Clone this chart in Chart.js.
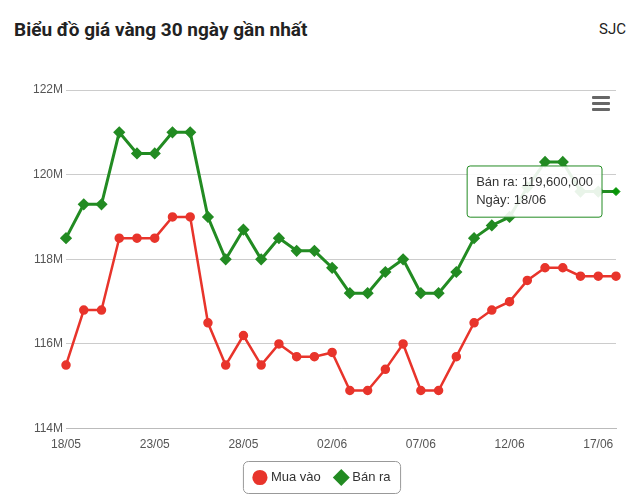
<!DOCTYPE html>
<html><head><meta charset="utf-8">
<script src="https://cdn.jsdelivr.net/npm/chart.js@4"></script>
<style>
body{margin:0;width:640px;height:500px;background:#fff;font-family:Roboto,"Open Sans",sans-serif;position:relative;overflow:hidden}
#t{position:absolute;left:14px;top:18px;font-size:19px;font-weight:bold;color:#222}
#s{position:absolute;right:14px;top:20px;font-size:15px;color:#222}
#m{position:absolute;left:592px;top:96px;width:18px}
#m div{height:3px;background:#666;margin-bottom:3px;border-radius:1px}
#c{position:absolute;left:0;top:60px}
</style></head><body>
<div id="t">Biểu đồ giá vàng 30 ngày gần nhất</div><div id="s">SJC</div>
<canvas id="c" width="640" height="440"></canvas>
<div id="m"><div></div><div></div><div></div></div>
<script>
const dates=["18/05","19/05","20/05","21/05","22/05","23/05","24/05","25/05","26/05","27/05","28/05","29/05","30/05","31/05","01/06","02/06","03/06","04/06","05/06","06/06","07/06","08/06","09/06","10/06","11/06","12/06","13/06","14/06","15/06","16/06","17/06","18/06"];
const muaVao=[115.5,116.8,116.8,118.5,118.5,118.5,119.0,119.0,116.5,115.5,116.2,115.5,116.0,115.7,115.7,115.8,114.9,114.9,115.4,116.0,114.9,114.9,115.7,116.5,116.8,117.0,117.5,117.8,117.8,117.6,117.6,117.6];
const banRa=[118.5,119.3,119.3,121.0,120.5,120.5,121.0,121.0,119.0,118.0,118.7,118.0,118.5,118.2,118.2,117.8,117.2,117.2,117.7,118.0,117.2,117.2,117.7,118.5,118.8,119.0,119.7,120.3,120.3,119.6,119.6,119.6];
const yTicks=[114,116,118,120,122];
const boxPlugin={id:'lb',afterDraw(ch){const l=ch.legend;if(!l)return;const c=ch.ctx;c.save();c.strokeStyle='#999';c.lineWidth=1;
const h=l.legendHitBoxes;const x0=h[0].left-12,x1=h[h.length-1].left+h[h.length-1].width+10;const yc=h[0].top+h[0].height/2;
c.beginPath();c.roundRect(x0,yc-16,x1-x0,32,5);c.stroke();c.restore();}};
const ch=new Chart(document.getElementById('c'),{type:'line',
data:{labels:dates,datasets:[
{label:'Mua vào',data:muaVao,borderColor:'#e8342b',backgroundColor:'#e8342b',borderWidth:2.5,pointRadius:3.5,pointStyle:'circle',tension:0},
{label:'Bán ra',data:banRa,borderColor:'#228b22',backgroundColor:'#228b22',borderWidth:3,pointRadius:4,pointStyle:'rectRot',tension:0}]},
options:{responsive:false,animation:false,
layout:{padding:{left:30,right:24,top:30,bottom:6}},
scales:{
y:{min:114,max:122,afterBuildTicks(a){a.ticks=yTicks.map(v=>({value:v}));},
 ticks:{callback:v=>v+'M',color:'#555',font:{size:12}},grid:{color:'#ccc',drawTicks:false},border:{display:false}},
x:{offset:false,grid:{display:false,drawTicks:true,tickLength:6},border:{color:'#bbb'},
 ticks:{autoSkip:false,maxRotation:0,color:'#555',font:{size:12},callback:(v,i)=>i%5===0?dates[i]:''}}},
plugins:{legend:{position:'bottom',labels:{usePointStyle:true,boxWidth:9,boxHeight:9,color:'#333',font:{size:13},padding:16}},
tooltip:{backgroundColor:'rgba(255,255,255,0.9)',borderColor:'#228b22',borderWidth:1,titleColor:'#333',bodyColor:'#333',displayColors:false,
 xAlign:'right',yAlign:'center',caretSize:0,caretPadding:14,cornerRadius:3,padding:9,bodyFont:{size:13},
 callbacks:{title:()=>'',label:c=>[c.dataset.label+': '+(c.raw*1e6).toLocaleString('en-US'),'Ngày: '+c.label]}}}},
plugins:[boxPlugin]});
ch.setActiveElements([{datasetIndex:1,index:31}]);
const el=ch.getDatasetMeta(1).data[31];
ch.tooltip.setActiveElements([{datasetIndex:1,index:31}],{x:el.x,y:el.y});
ch.update();
</script></body></html>
